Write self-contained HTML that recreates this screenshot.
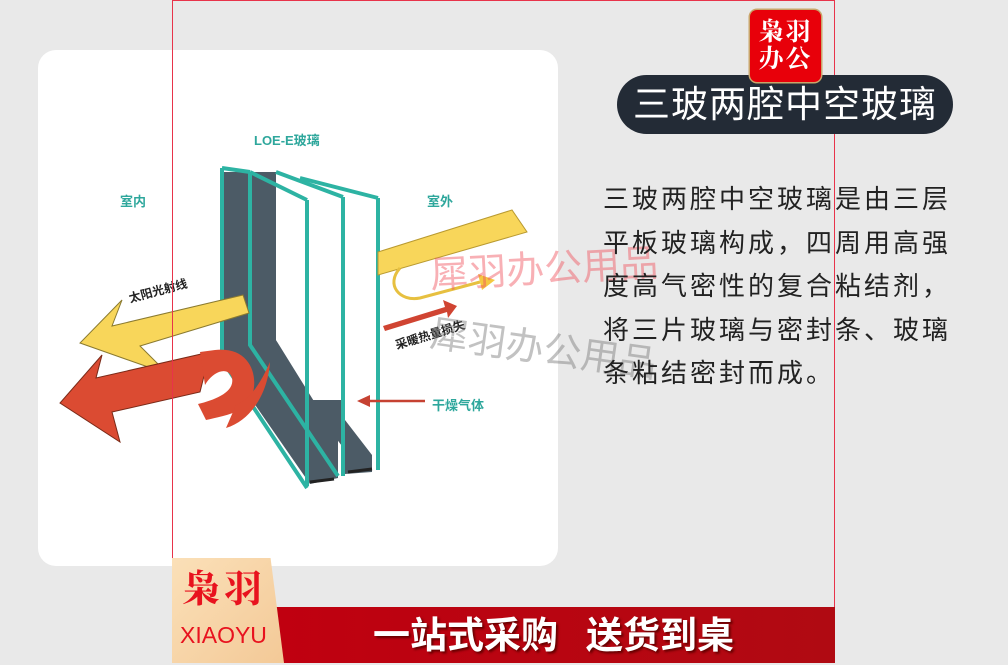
<!DOCTYPE html>
<html><head><meta charset="utf-8"><style>
body{margin:0;width:1008px;height:663px;background:#e9e9e9;position:relative;overflow:hidden;font-family:"Liberation Sans","Noto Sans CJK SC",sans-serif}
.card{position:absolute;left:38px;top:50px;width:520px;height:516px;background:#fff;border-radius:18px}
.frame{position:absolute;left:172px;top:0;width:663px;height:608px;border:1.5px solid #e8334a;box-sizing:border-box}
.pill{position:absolute;left:617px;top:75px;width:336px;height:59px;background:#232b36;border-radius:30px;color:#fff;font-size:37px;line-height:59px;text-align:center;letter-spacing:1px}
.logo{position:absolute;left:750px;top:10px;width:71px;height:72px;background:#e8000a;border-radius:7px;color:#fff;font-family:"Noto Serif CJK SC",serif;font-weight:bold;font-size:25px;line-height:27px;text-align:center;padding-top:7px;box-sizing:border-box;letter-spacing:2px;box-shadow:0 0 0 1.5px #c9a56a}
.para{position:absolute;left:603px;top:178px;width:400px;font-size:26px;line-height:43.5px;color:#222;letter-spacing:3px;white-space:nowrap}
.bar{position:absolute;left:272px;top:607px;width:563px;height:56px;background:linear-gradient(90deg,#c00010,#b00a12);color:#fff;font-size:37px;font-weight:bold;line-height:58px;text-align:center;text-shadow:2px 2px 2px #600}
.bar span{margin-left:28px}
.tab{position:absolute;left:172px;top:558px;width:112px;height:105px;background:linear-gradient(135deg,#fbe0b8,#f3c997);clip-path:polygon(0 0,88% 0,100% 100%,0 100%)}
.t1{position:absolute;left:10px;top:6px;font-family:"Noto Serif CJK SC",serif;font-weight:bold;color:#e8121e;font-size:38px;letter-spacing:4px;line-height:44px}
.t2{position:absolute;left:8px;top:64px;color:#e8121e;font-size:23px}
.lab{position:absolute;font-size:13px;font-weight:bold;color:#2ea79c}
.blk{position:absolute;font-size:12px;font-weight:bold;color:#222}
.wm{position:absolute;font-size:38px;color:rgba(240,80,90,.45);transform:rotate(-3deg)}
</style></head><body>
<div class="card"></div>
<svg style="position:absolute;left:0;top:0" width="1008" height="663">
<polygon points="222,170 378,198 378,478 307,488 222,360" fill="#fff"/>
<polygon points="224,172 276,172 276,340 338,440 338,478 310,484 224,360" fill="#4c5b66"/>
<polygon points="276,172 305,178 305,380 276,340" fill="#fff"/>
<polygon points="307,400 345,450 345,474 372,472 372,455 345,420 345,400" fill="#4c5b66"/>
<g fill="none" stroke="#2db3a3" stroke-width="4">
<polyline points="222,168 222,360 307,488"/>
<polyline points="250,172 250,345 338,476"/>
<line x1="222" y1="168" x2="250" y2="172"/>
<line x1="250" y1="172" x2="307" y2="200"/>
<line x1="307" y1="200" x2="307" y2="486"/>
<line x1="276" y1="172" x2="343" y2="197"/>
<line x1="343" y1="197" x2="343" y2="476"/>
<line x1="300" y1="178" x2="378" y2="198"/>
<line x1="378" y1="198" x2="378" y2="470"/>
</g>
<line x1="310" y1="482" x2="334" y2="479" stroke="#222" stroke-width="3"/>
<line x1="348" y1="472" x2="372" y2="469" stroke="#222" stroke-width="3"/>
<polygon points="378,252 512,210 527,232 378,275" fill="#f8d65a" stroke="#b99a30" stroke-width="1"/>
<polygon points="243,295 112,326 122,300 80,343 168,374 140,346 249,313" fill="#f8d65a" stroke="#8a7a30" stroke-width="1"/>
<path d="M400,268 C385,285 400,302 420,298 L480,282" fill="none" stroke="#e7c040" stroke-width="3"/>
<polygon points="478,274 495,280 482,290" fill="#f4c840"/>
<polygon points="210,352 96,378 102,355 60,403 120,442 112,412 200,392" fill="#db4b32" stroke="#7a2a18" stroke-width="1"/>
<path d="M200,352 L215,350 C262,345 262,400 240,410 C230,415 215,418 206,420 L198,404 C215,400 235,392 232,378 C228,365 212,372 205,385 Z" fill="#db4b32"/>
<path d="M236,405 C252,398 262,380 270,362 C268,392 252,420 226,428 Z" fill="#db4b32"/>
<polygon points="383,326 445,307 443,300 457,306 448,318 447,312 385,331" fill="#d04432"/>
<line x1="425" y1="401" x2="368" y2="401" stroke="#c64232" stroke-width="2.5"/>
<polygon points="357,401 370,395 370,407" fill="#c64232"/>
</svg>
<div class="lab" style="left:254px;top:130px">LOE-E玻璃</div>
<div class="lab" style="left:120px;top:191px">室内</div>
<div class="lab" style="left:427px;top:191px">室外</div>
<div class="lab" style="left:432px;top:395px">干燥气体</div>
<div class="blk" style="left:128px;top:282px;transform:rotate(-15deg)">太阳光射线</div>
<div class="blk" style="left:394px;top:326px;transform:rotate(-17deg)">采暖热量损失</div>
<div class="wm" style="left:430px;top:238px">犀羽办公用品</div>
<div class="wm" style="left:430px;top:318px;color:rgba(120,120,120,.45);transform:rotate(8deg)">犀羽办公用品</div>
<div class="frame"></div>
<div class="pill">三玻两腔中空玻璃</div>
<div class="logo">枭羽<br>办公</div>
<div class="para">三玻两腔中空玻璃是由三层<br>平板玻璃构成，四周用高强<br>度高气密性的复合粘结剂，<br>将三片玻璃与密封条、玻璃<br>条粘结密封而成。</div>
<div class="bar">一站式采购<span>送货到桌</span></div>
<div class="tab"><div class="t1">枭羽</div><div class="t2">XIAOYU</div></div>
</body></html>
